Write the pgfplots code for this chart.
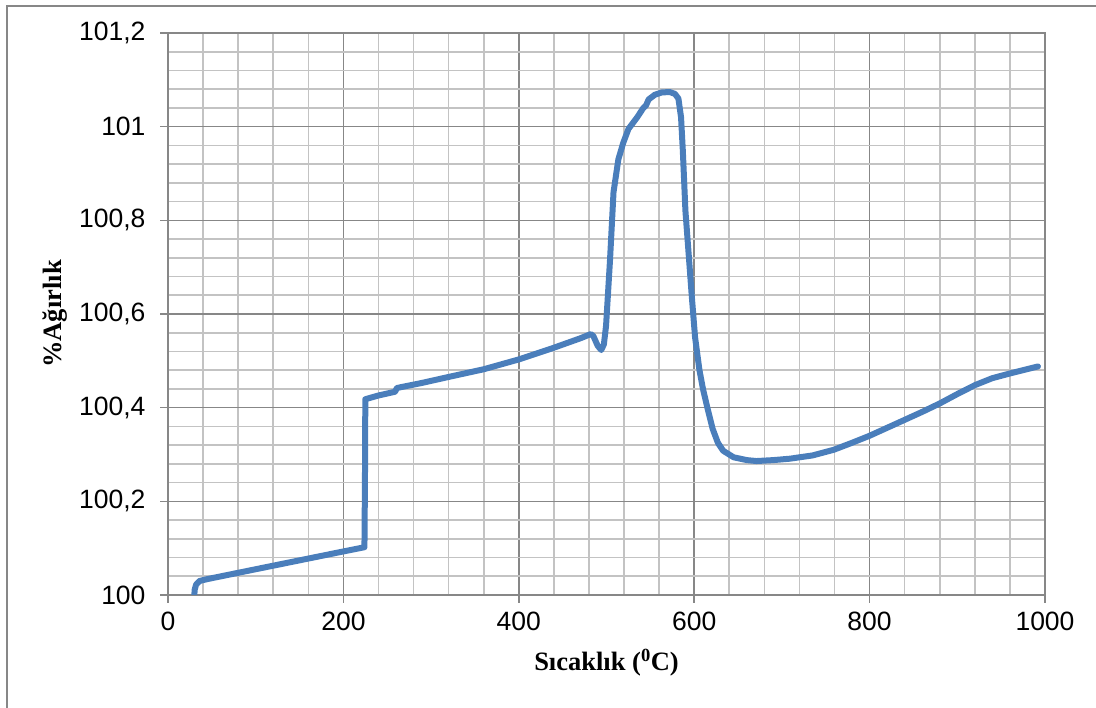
\documentclass[border=0pt]{standalone}
\usepackage{fontspec}
\setmainfont{Liberation Serif}
\newfontfamily\arial{Liberation Sans}
\usepackage{pgfplots}
\pgfplotsset{compat=1.18}
\definecolor{linecol}{HTML}{4A7EBB}
\definecolor{majgrid}{HTML}{878787}
\definecolor{mingrid}{HTML}{C3C3C3}
\begin{document}
\begin{tikzpicture}[x=1pt,y=1pt]
\useasboundingbox (0,0) rectangle (1096,708);
\draw[color=majgrid,line width=1.4pt] (7,-10) -- (7,702) -- (1110,702);
\begin{axis}[
  at={(168pt,113pt)}, anchor=south west,
  scale only axis, width=877pt, height=562pt,
  xmin=0, xmax=1000, ymin=100, ymax=101.2,
  xtick={0,200,400,600,800,1000},
  ytick={100,100.2,100.4,100.6,100.8,101,101.2},
  minor x tick num=4, minor y tick num=4,
  grid=both,
  major grid style={color=majgrid,line width=1.6pt},
  minor grid style={color=mingrid,line width=1.6pt},
  axis line style={color=majgrid,line width=1.6pt},
  tick align=outside,
  major tick length=8pt, minor tick length=0pt,
  tick style={color=majgrid,line width=1.6pt},
  xtick pos=bottom, ytick pos=left,
  /pgf/number format/use comma,
  /pgf/number format/1000 sep={},
  /pgf/number format/assume math mode=true,
  ticklabel style={font=\arial\fontsize{26.5}{30}\selectfont},
  yticklabel style={anchor=east,xshift=-11pt},
  xticklabel style={anchor=north,yshift=-5pt},
  scaled ticks=false,
  xlabel={\textbf{Sıcaklık (\textsuperscript{0}C)}},
  ylabel={\textbf{\%Ağırlık}},
  label style={font=\fontsize{26.5}{30}\selectfont},
  xlabel style={at={(axis description cs:0.5,-0.121)},anchor=center},
  ylabel style={at={(axis description cs:-0.1289,0.5)},anchor=center},
]
\addplot[color=linecol, line width=6pt, line join=round, line cap=round] coordinates {
(30,100.000) (30.5,100.012) (32,100.022) (36,100.030) (45,100.034)
(100,100.055) (150,100.074) (200,100.093) (224,100.102)
(224.6,100.25) (225,100.418) (240,100.426) (259,100.434) (261,100.442)
(290,100.453) (321,100.466) (360,100.482) (400,100.503) (440,100.528)
(470,100.548) (482,100.557) (485,100.553) (490,100.532) (494,100.523)
(497,100.535) (499.5,100.575) (504,100.715) (508,100.86) (513.5,100.93)
(519,100.965) (525,100.995) (535,101.02) (542,101.040) (545,101.045)
(548,101.058) (555,101.068) (563,101.073) (572,101.074) (578,101.070)
(582,101.060) (585,101.020) (587,100.95) (590,100.82) (594,100.72)
(597,100.644) (601,100.55) (606,100.48) (610,100.44) (615,100.40)
(621,100.355) (627,100.325) (633,100.308) (645,100.294) (660,100.288)
(671,100.286) (690,100.288) (709,100.291) (735,100.298) (759,100.310)
(780,100.325) (800,100.340) (820,100.357) (840,100.374) (860,100.391)
(880,100.409) (900,100.429) (920,100.448) (940,100.463) (960,100.473)
(975,100.480) (992,100.488)
};
\end{axis}
\end{tikzpicture}
\end{document}
